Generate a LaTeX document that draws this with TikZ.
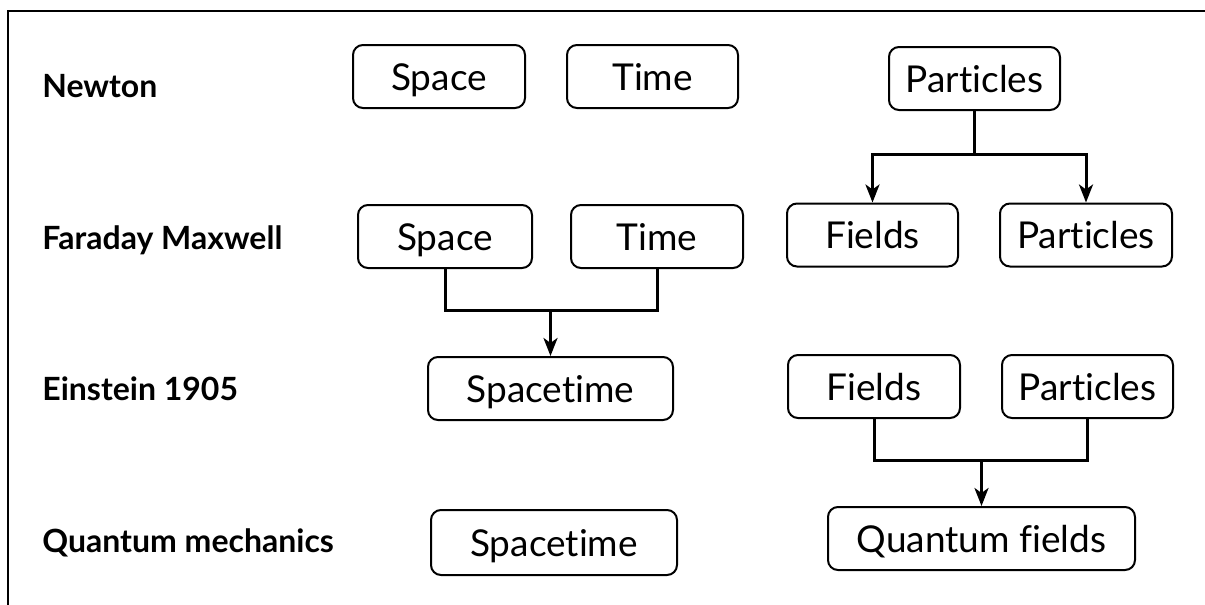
\documentclass[tikz,border=0pt]{standalone}
\usepackage{fontspec}
\setmainfont{Lato}[Ligatures=NoCommon]
\usetikzlibrary{arrows.meta}

\begin{document}
\begin{tikzpicture}[x=0.5pt, y=-0.5pt, >={Stealth[length=9pt, width=7pt, inset=2.5pt]},
  box/.style={draw, line width=1pt, rounded corners=5pt, minimum height=31.5pt, inner sep=0pt,
    font=\fontsize{18.5}{20}\selectfont, text height=13.5pt, text depth=0pt},
  era/.style={anchor=base west, font=\fontsize{16}{18}\selectfont\bfseries, inner sep=0pt},
  link/.style={line width=1.5pt}]

\useasboundingbox (0,0) rectangle (1205,605);
\draw[line width=1pt] (8,605) -- (8,11) -- (1205,11); % frame

% era labels
\node[era] (newton) at (42,97) {Newton};
\node[era] (faraday) at (42,249) {Faraday Maxwell};
\node[era] (einstein) at (42,400) {Einstein 1905};
\node[era] (quantum) at (42,552) {Quantum mechanics};

% Newton
\node[box, minimum width=86pt] (n-space) at (439,76.5) {Space};
\node[box, minimum width=85.5pt] (n-time) at (652.5,76.5) {Time};
\node[box, minimum width=85.5pt] (n-part) at (974.5,78.5) {Particles};

% Faraday Maxwell
\node[box, minimum width=87pt] (f-space) at (445,236.5) {Space};
\node[box, minimum width=86pt] (f-time) at (657,236.5) {Time};
\node[box, minimum width=85.5pt] (f-fields) at (872.5,235) {Fields};
\node[box, minimum width=86pt] (f-part) at (1086,235) {Particles};

% Einstein 1905
\node[box, minimum width=122.5pt] (e-st) at (550.5,388.5) {Spacetime};
\node[box, minimum width=86pt] (e-fields) at (874,386.5) {Fields};
\node[box, minimum width=85.5pt] (e-part) at (1087.5,386.5) {Particles};

% Quantum mechanics
\node[box, minimum width=123pt, minimum height=32.5pt] (q-st) at (554,542.5) {Spacetime};
\node[box, minimum width=153.5pt] (q-qf) at (981.5,538.5) {Quantum fields};

% connectors
\coordinate (split) at (974.5,154);
\draw[link] (n-part.south) -- (split);
\draw[link, ->] (split) -| (f-fields.north);
\draw[link, ->] (split) -| (f-part.north);

\coordinate (merge1) at (550.5,310);
\draw[link] (f-space.south) |- (merge1) -| (f-time.south);
\draw[link, ->] (merge1) -- (e-st.north);

\coordinate (merge2) at (981.5,460);
\draw[link] (e-fields.south) |- (merge2) -| (e-part.south);
\draw[link, ->] (merge2) -- (q-qf.north);

\end{tikzpicture}
\end{document}
